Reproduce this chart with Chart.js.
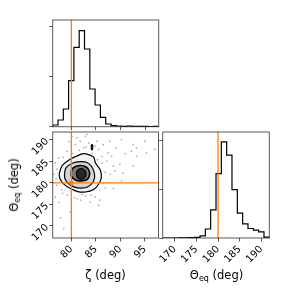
<!DOCTYPE html>
<html>
<head>
<meta charset="utf-8">
<script src="https://cdn.jsdelivr.net/npm/chart.js@4.4.1/dist/chart.umd.min.js"></script>
<style>
  html, body { margin: 0; padding: 0; background: #fff; }
  #wrap { position: relative; width: 291px; height: 291px; overflow: hidden; font-family: "DejaVu Sans", sans-serif; }
  #wrap canvas { position: absolute; left: 0; top: 0; }
  .lbl { position: absolute; font-size: 11.5px; color: #000; white-space: nowrap; transform: translate(-50%, -50%); }
  .lbl sub { font-size: 8px; vertical-align: -2px; line-height: 0; }
</style>
</head>
<body>
<div id="wrap">
  <canvas id="histZeta" width="291" height="291"></canvas>
  <canvas id="hist2d" width="291" height="291"></canvas>
  <canvas id="histTheta" width="291" height="291"></canvas>
  <div class="lbl" style="left:105.5px; top:275px;">ζ (deg)</div>
  <div class="lbl" style="left:216.5px; top:275px;">Θ<sub>eq</sub> (deg)</div>
  <div class="lbl" style="left:14px; top:185px; transform: translate(-50%, -50%) rotate(-90deg);">Θ<sub>eq</sub> (deg)</div>
</div>
<script>
// axis ranges and ticks
const zetaRange = [76.2, 97.76];
const thetaRange = [167.2, 191.85];
const zetaTicks = [80, 85, 90, 95];
const thetaTicks = [170, 175, 180, 185, 190];
const countTicks = [0, 500, 1000];
const zetaCountMax = 1067;
const thetaCountMax = 1082;

// truth values
const zetaTruth = 80;
const thetaTruth = 180;

// 1D histograms (20 bins)
const zetaEdges = [76.2, 77.28, 78.36, 79.43, 80.51, 81.59, 82.67, 83.75, 84.82, 85.9, 86.98,
                   88.06, 89.14, 90.21, 91.29, 92.37, 93.45, 94.53, 95.6, 96.68, 97.76];
const zetaCounts = [17, 67, 177, 460, 793, 960, 777, 377, 217, 93, 27, 10, 7, 3, 5, 3, 3, 4, 2, 3];
const thetaEdges = [167.2, 168.43, 169.67, 170.9, 172.13, 173.36, 174.6, 175.83, 177.06, 178.29, 179.53,
                    180.76, 181.99, 183.22, 184.46, 185.69, 186.92, 188.15, 189.39, 190.62, 191.85];
const thetaCounts = [0, 0, 0, 1, 1, 3, 7, 21, 92, 287, 657, 982, 845, 493, 253, 144, 97, 80, 63, 8];

// 2D density contours [zeta, theta]
const contourOuter = [[77.5,182.0],[78.1,184.0],[79.6,185.4],[81.16,186.3],[82.5,186.8],[83.5,186.6],[84.55,186.0],
  [84.9,184.7],[85.9,183.0],[86.1,181.2],[85.56,179.7],[84.55,178.5],[82.85,177.9],[81.3,178.0],[79.8,178.7],
  [78.4,179.8],[77.7,180.9],[77.5,182.0]];
const contourMiddle = [[78.6,182.0],[78.9,183.5],[80.2,184.6],[81.84,184.95],[83.19,184.75],[84.07,183.9],[84.55,182.8],
  [84.75,181.4],[84.34,180.1],[83.39,179.1],[82.04,178.8],[80.5,179.1],[79.3,180.0],[78.7,181.0],[78.6,182.0]];
const contourInner = [[79.9,182.2],[80.2,183.3],[81.0,183.9],[82.0,184.05],[83.0,183.7],[83.6,182.9],[83.7,181.8],
  [83.3,180.9],[82.4,180.5],[81.3,180.5],[80.4,181.0],[80.0,181.6],[79.9,182.2]];
const contourCore = [[81.0,182.1],[81.3,183.0],[82.0,183.35],[82.7,183.0],[83.0,182.1],[82.7,181.2],[82.0,180.85],
  [81.3,181.2],[81.0,182.1]];
const contourIsland = [[84.05,188.3],[84.1,188.8],[84.2,188.9],[84.3,188.8],[84.35,188.3],[84.3,187.8],[84.2,187.7],
  [84.1,187.8],[84.05,188.3]];

// samples outside the contours
const scatterPoints = [[87.87,189.7],[90.24,190.1],[92.54,188.9],[94.98,189.7],[93.29,188.15],[92.28,187.4],
  [95.33,187.0],[97.0,187.8],[93.29,186.2],[89.9,184.3],[92.6,183.9],[88.9,182.8],[87.5,187.0],[87.2,185.1],
  [87.87,182.0],[88.54,183.9],[90.24,180.5],[82.2,177.3],[82.85,177.0],[84.88,176.7],[83.86,175.5],[77.44,175.5],
  [78.46,169.4],[76.75,176.7],[81.16,176.3],[85.57,174.8],[80.14,190.85],[81.16,190.5],[82.85,190.85],[81.83,189.7],
  [83.54,189.3],[80.81,188.9],[82.52,188.15],[85.22,189.7],[85.57,187.8],[76.75,184.7],[77.1,183.2],[76.42,182.0],
  [77.44,185.8],[79.13,187.4],[84.2,186.9],[86.24,186.2],[78.0,178.5],[77.0,179.5],[86.6,180.0],[86.9,182.5],
  [79.2,177.2],[84.0,177.2],[86.3,184.6],[80.2,186.8],[78.3,186.0],[81.6,187.6],[83.0,188.4],[85.3,185.4],
  [86.9,178.8],[76.9,181.0],[80.6,176.6],[81.9,176.0],[79.5,189.6],[83.2,191.3],[84.8,188.6],[86.5,188.9],
  [88.2,186.2],[89.1,188.1],[91.0,186.8],[90.5,182.3],[87.4,180.1],[88.6,178.7],[85.8,176.0],[79.8,173.3],
  [77.8,171.9],[78.2,177.6]];

const orange = '#ff7f0e';
Chart.defaults.font.family = '"DejaVu Sans", sans-serif';
Chart.defaults.font.size = 10;
Chart.defaults.color = '#000';

function stepData(edges, counts) {
  const pts = [{x: edges[0], y: 0}];
  counts.forEach((c, i) => pts.push({x: edges[i], y: c}));
  pts.push({x: edges[edges.length - 1], y: counts[counts.length - 1]});
  pts.push({x: edges[edges.length - 1], y: 0});
  return pts;
}
const toXY = arr => arr.map(p => ({x: p[0], y: p[1]}));

// axes frame (all four spines)
const frame = {
  id: 'frame',
  afterDatasetsDraw(chart) {
    const {ctx, chartArea: a} = chart;
    ctx.save();
    ctx.strokeStyle = 'rgba(0,0,0,0.65)';
    ctx.lineWidth = 1;
    ctx.strokeRect(a.left, a.top, a.right - a.left, a.bottom - a.top);
    ctx.restore();
  }
};

function axis(pos, range, ticks, size, showLabels) {
  return {
    type: 'linear', position: pos, min: range[0], max: range[1],
    afterBuildTicks: s => { s.ticks = ticks.map(v => ({value: v})); },
    afterFit: s => { if (pos === 'bottom') s.height = size; else s.width = size; },
    border: {display: false},
    grid: {display: true, drawOnChartArea: false, drawTicks: true, tickLength: 3.5, tickColor: '#333', tickWidth: 0.8},
    ticks: {display: showLabels, minRotation: 45, maxRotation: 45, padding: 2, autoSkip: false, callback: v => String(v)}
  };
}

function baseOptions(pad, scales) {
  return {
    responsive: false, animation: false, events: [],
    layout: {padding: pad},
    plugins: {legend: {display: false}, tooltip: {enabled: false}},
    scales: scales
  };
}

// top: zeta histogram
new Chart(document.getElementById('histZeta'), {
  type: 'line',
  data: {datasets: [
    {data: [{x: zetaTruth, y: 0}, {x: zetaTruth, y: zetaCountMax}], borderColor: orange, borderWidth: 1.3, pointRadius: 0, order: 0},
    {data: stepData(zetaEdges, zetaCounts), borderColor: '#000', borderWidth: 1.2, pointRadius: 0, stepped: true, order: 1}
  ]},
  options: baseOptions({left: 0, top: 20, right: 132.3, bottom: 0}, {
    x: axis('bottom', zetaRange, zetaTicks, 164.3, false),
    y: axis('left', [0, zetaCountMax], countTicks, 52.7, false)
  }),
  plugins: [frame]
});

// bottom left: 2D density
function contourSet(pts, fillColor, width, order) {
  return {data: toXY(pts), borderColor: '#000', borderWidth: width, backgroundColor: fillColor,
          fill: 'shape', tension: 0.35, pointRadius: 0, order: order};
}
new Chart(document.getElementById('hist2d'), {
  type: 'line',
  data: {datasets: [
    {data: [{x: zetaTruth, y: thetaTruth}], borderColor: orange, backgroundColor: orange, pointStyle: 'rect',
     pointRadius: 2.6, borderWidth: 0, showLine: false, order: 0},
    {data: [{x: zetaTruth, y: thetaRange[0]}, {x: zetaTruth, y: thetaRange[1]}], borderColor: orange, borderWidth: 1.3, pointRadius: 0, order: 1},
    {data: [{x: zetaRange[0], y: thetaTruth}, {x: zetaRange[1], y: thetaTruth}], borderColor: orange, borderWidth: 1.3, pointRadius: 0, order: 1},
    contourSet(contourCore, '#262626', 1.2, 5),
    contourSet(contourInner, '#7a7a7a', 1.6, 6),
    contourSet(contourMiddle, '#d6d6d6', 1.2, 7),
    contourSet(contourIsland, '#f2f2f2', 1.2, 8),
    contourSet(contourOuter, '#f2f2f2', 1.2, 9),
    {data: toXY(scatterPoints), showLine: false, pointRadius: 0.9, borderWidth: 0,
     backgroundColor: 'rgba(0,0,0,0.3)', order: 10}
  ]},
  options: baseOptions({left: 0, top: 132, right: 132.5, bottom: 0}, {
    x: axis('bottom', zetaRange, zetaTicks, 53, true),
    y: axis('left', thetaRange, thetaTicks, 52.7, true)
  }),
  plugins: [frame]
});

// bottom right: theta histogram
new Chart(document.getElementById('histTheta'), {
  type: 'line',
  data: {datasets: [
    {data: [{x: thetaTruth, y: 0}, {x: thetaTruth, y: thetaCountMax}], borderColor: orange, borderWidth: 1.3, pointRadius: 0, order: 0},
    {data: stepData(thetaEdges, thetaCounts), borderColor: '#000', borderWidth: 1.2, pointRadius: 0, stepped: true, order: 1}
  ]},
  options: baseOptions({left: 0, top: 132, right: 21.7, bottom: 0}, {
    x: axis('bottom', thetaRange, thetaTicks, 53, true),
    y: axis('left', [0, thetaCountMax], countTicks, 162.7, false)
  }),
  plugins: [frame]
});
</script>
</body>
</html>
